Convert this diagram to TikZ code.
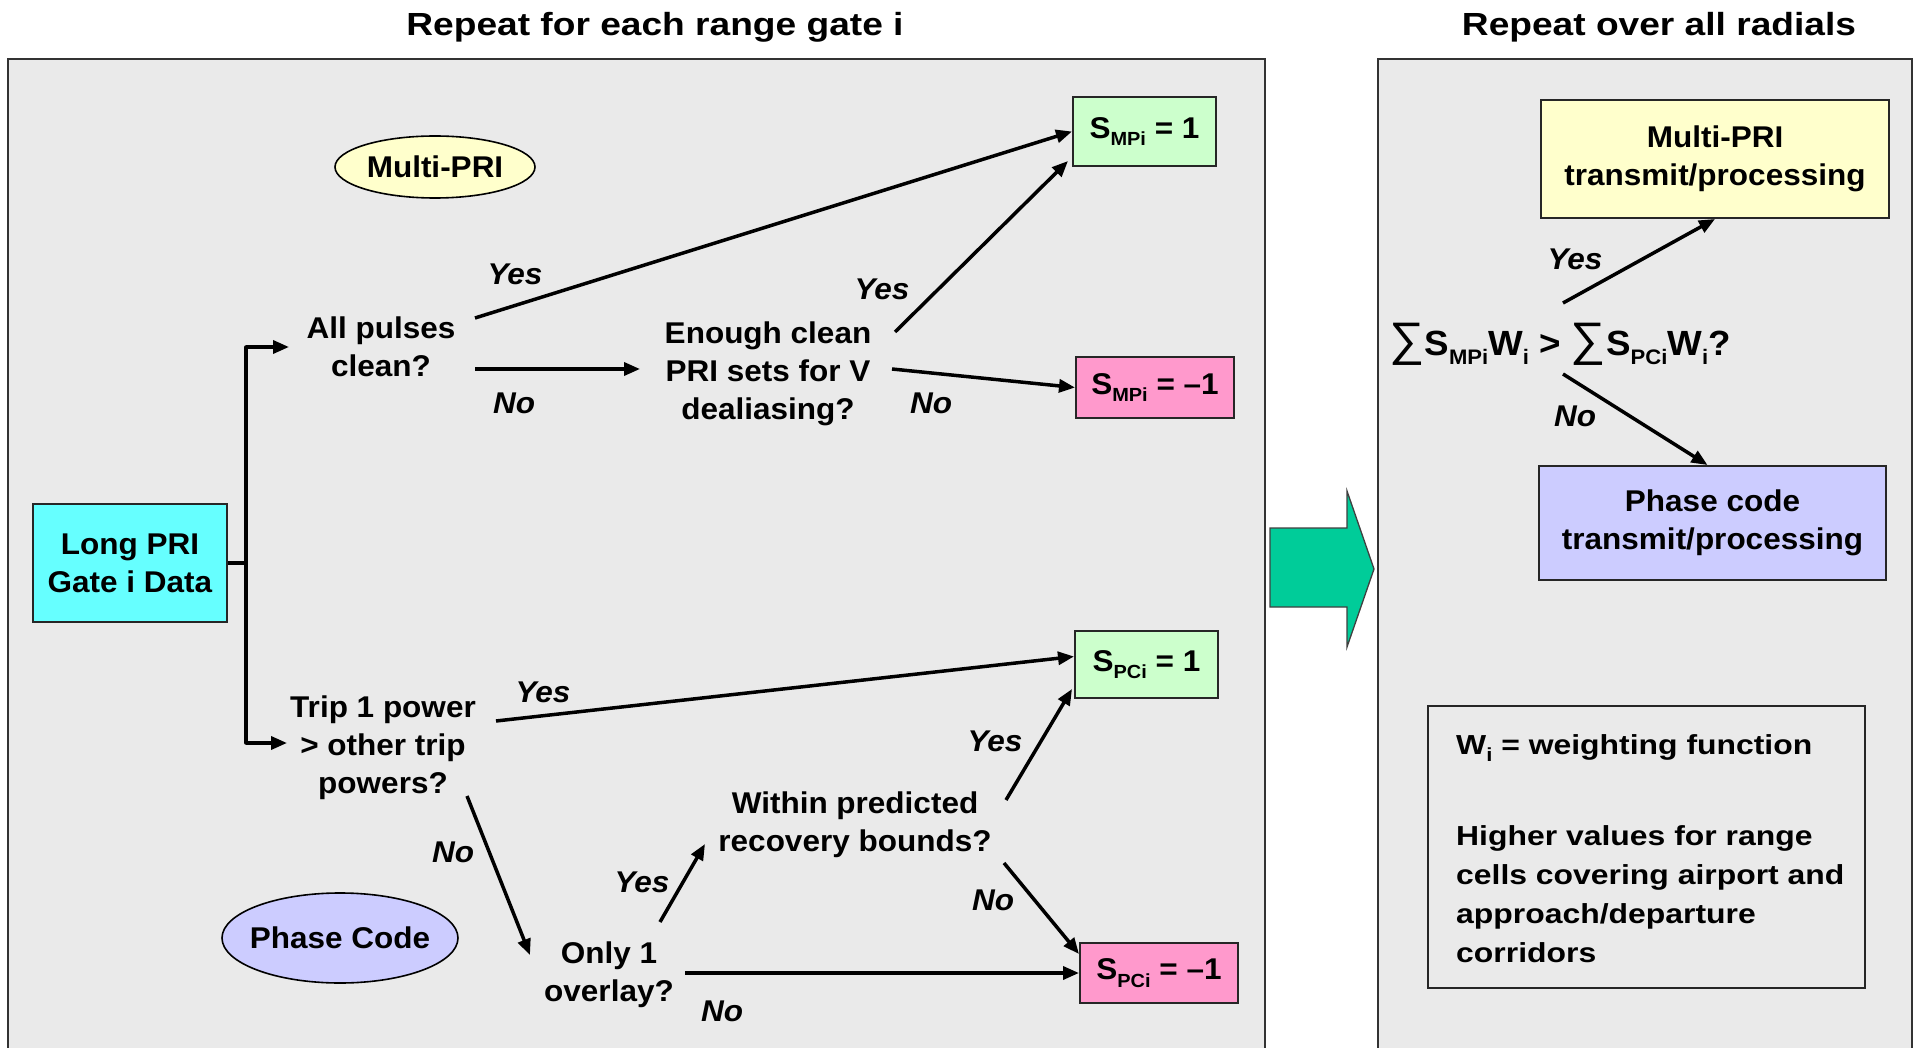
\documentclass[tikz,border=0pt]{standalone}
\usepackage{fontspec}
\setmainfont{Liberation Sans}[FakeStretch=1.05]
\newfontfamily\widefont{Liberation Sans}[FakeStretch=1.16]
\usetikzlibrary{arrows.meta,shapes.geometric,calc}
\definecolor{panelgray}{HTML}{EAEAEA}
\definecolor{cyanbox}{HTML}{66FFFF}
\definecolor{greenbox}{HTML}{CCFFCC}
\definecolor{pinkbox}{HTML}{FF99CC}
\definecolor{yellowbox}{HTML}{FFFFCC}
\definecolor{lavbox}{HTML}{CCCCFF}
\definecolor{arrowgreen}{HTML}{00CC99}
\newcommand\sbs[1]{\raisebox{-7.5pt}{\fontsize{19}{19}\selectfont #1}}
\newcommand\fsbs[1]{\raisebox{-8.5pt}{\fontsize{21}{21}\selectfont #1}}
\newcommand\sumsym{{\fontsize{47}{47}\selectfont\mdseries ∑}}
\tikzset{
  txt/.style={font=\fontsize{30}{38}\selectfont\bfseries, align=center, inner sep=0pt},
  lbl/.style={font=\fontsize{30}{36}\selectfont\bfseries\itshape, inner sep=0pt},
  titletxt/.style={font=\widefont\fontsize{32}{38}\selectfont\bfseries, inner sep=0pt},
  boxnode/.style={txt, draw=black!85, line width=2pt, rectangle},
  ellshape/.style={draw=black, line width=1.6pt},
  conn/.style={line width=3.5pt, -{Triangle[length=16pt,width=13pt]}},
  plainline/.style={line width=3.5pt},
  panel/.style={draw=black!80, line width=2pt, fill=panelgray},
}
\begin{document}
\begin{tikzpicture}[x=1pt,y=-1pt]
\useasboundingbox (0,0) rectangle (1915,1048);
\clip (0,0) rectangle (1915,1048);
\fill[white] (0,0) rectangle (1915,1048);

% titles
\node[titletxt, anchor=base] (t1) at (655,36) {Repeat for each range gate i};
\node[titletxt, anchor=base] (t2) at (1659,36) {Repeat over all radials};

% panels
\draw[panel] (8,59) rectangle (1265,1070);
\draw[panel] (1378,59) rectangle (1912,1070);

% big arrow
\draw[fill=arrowgreen, draw=black!75, line width=1.3pt]
  (1270,528) -- (1347,528) -- (1347,491) -- (1374,569) -- (1347,647) -- (1347,607) -- (1270,607) -- cycle;

% ellipses
\draw[ellshape, fill=yellowbox] (435,167) ellipse [x radius=100, y radius=31];
\draw[ellshape, fill=lavbox] (340,938) ellipse [x radius=118, y radius=45];

% left panel nodes
\node[boxnode, fill=cyanbox, minimum width=194pt, minimum height=118pt] (lp) at (130,563) {Long PRI\\Gate i Data};
\node[txt] (mp) at (435,167) {Multi-PRI};
\node[txt] (pc) at (340,938) {Phase Code};

\node[txt] (ap) at (381,347) {All pulses\\clean?};
\node[txt] (en) at (768,374) {Enough clean\\PRI sets for V\\dealiasing?};
\node[txt] (tr) at (383,748) {Trip 1 power\\> other trip\\powers?};
\node[txt] (wi) at (855,825) {Within predicted\\recovery bounds?};
\node[txt] (on) at (609,975) {Only 1\\overlay?};

\node[boxnode, fill=greenbox, minimum width=143pt, minimum height=69pt] (m1) at (1144.5,131.5) {S\sbs{MPi} = 1};
\node[boxnode, fill=pinkbox, minimum width=158pt, minimum height=61pt] (m2) at (1155,387.5) {S\sbs{MPi} = –1};
\node[boxnode, fill=greenbox, minimum width=143pt, minimum height=67pt] (p1) at (1146.5,664.5) {S\sbs{PCi} = 1};
\node[boxnode, fill=pinkbox, minimum width=158pt, minimum height=60pt] (p2) at (1159,973) {S\sbs{PCi} = –1};

% right panel nodes
\node[boxnode, fill=yellowbox, minimum width=348pt, minimum height=118pt] (rm) at (1715,159) {Multi-PRI\\transmit/processing};
\node[boxnode, fill=lavbox, minimum width=347pt, minimum height=114pt] (rp) at (1712.5,523) {Phase code\\transmit/processing};
\node[font=\fontsize{35}{38}\selectfont\bfseries, inner sep=0pt, anchor=base] (fm) at (1560,356)
  {\sumsym S\fsbs{MPi}W\fsbs{i} > \sumsym S\fsbs{PCi}W\fsbs{i}?};
\node[draw=black!85, line width=2pt, minimum width=437pt, minimum height=282pt, inner sep=0pt] (wb) at (1646.5,847) {};
\node[font=\widefont\fontsize{27.5}{39}\selectfont\bfseries, align=left, inner sep=0pt, anchor=north west] (wt) at (1456,734)
  {W\sbs{i} = weighting function\\[52pt]Higher values for range\\cells covering airport and\\approach/departure\\corridors};

% connector points
\coordinate (jm) at (246,563);
\coordinate (jt) at (246,347);
\coordinate (jb) at (246,743);
\coordinate (apIn) at (289,347);
\coordinate (trIn) at (287,743);
\coordinate (apYes) at (475,318);
\coordinate (apNo) at (475,369);
\coordinate (enIn) at (640,369);
\coordinate (enYes) at (895,332);
\coordinate (enNo) at (892,369);
\coordinate (trYes) at (496,721);
\coordinate (trNo) at (467,796);
\coordinate (onIn) at (530,955);
\coordinate (onYes) at (660,922);
\coordinate (wiIn) at (705,844);
\coordinate (wiYes) at (1006,800);
\coordinate (wiNo) at (1004,863);
\coordinate (onNo) at (685,973);
\coordinate (fmYes) at (1563,303);
\coordinate (fmNo) at (1563,374);

% connectors
\draw[plainline] (lp.east) -- (jm);
\draw[plainline, line cap=round] (jt) -- (jb);
\draw[conn] (jt) -- (apIn);
\draw[conn] (jb) -- (trIn);
\draw[conn] (apYes) -- (m1.west);
\draw[conn] (apNo) -- (enIn);
\draw[conn] (enYes) -- ($(m1.south west)+(-4,-6)$);
\draw[conn] (enNo) -- (m2.west);
\draw[conn] (trYes) -- ($(p1.west)+(0,-8)$);
\draw[conn] (trNo) -- (onIn);
\draw[conn] (onYes) -- (wiIn);
\draw[conn] (wiYes) -- ($(p1.south west)+(-2,-10)$);
\draw[conn] (wiNo) -- ($(p2.north west)+(0,12)$);
\draw[conn] (onNo) -- (p2.west);
\draw[conn] (fmYes) -- (rm.south);
\draw[conn] (fmNo) -- ($(rp.north)+(-5,0)$);

% labels
\node[lbl] (y1) at (515,274) {Yes};
\node[lbl] (n1) at (514,403) {No};
\node[lbl] (y2) at (882,289) {Yes};
\node[lbl] (n2) at (931,403) {No};
\node[lbl] (y3) at (543,692) {Yes};
\node[lbl] (n3) at (453,852) {No};
\node[lbl] (y4) at (642,882) {Yes};
\node[lbl] (y5) at (995,741) {Yes};
\node[lbl] (n4) at (993,900) {No};
\node[lbl] (n5) at (722,1011) {No};
\node[lbl] (y6) at (1575,259) {Yes};
\node[lbl] (n6) at (1575,416) {No};
\end{tikzpicture}
\end{document}
